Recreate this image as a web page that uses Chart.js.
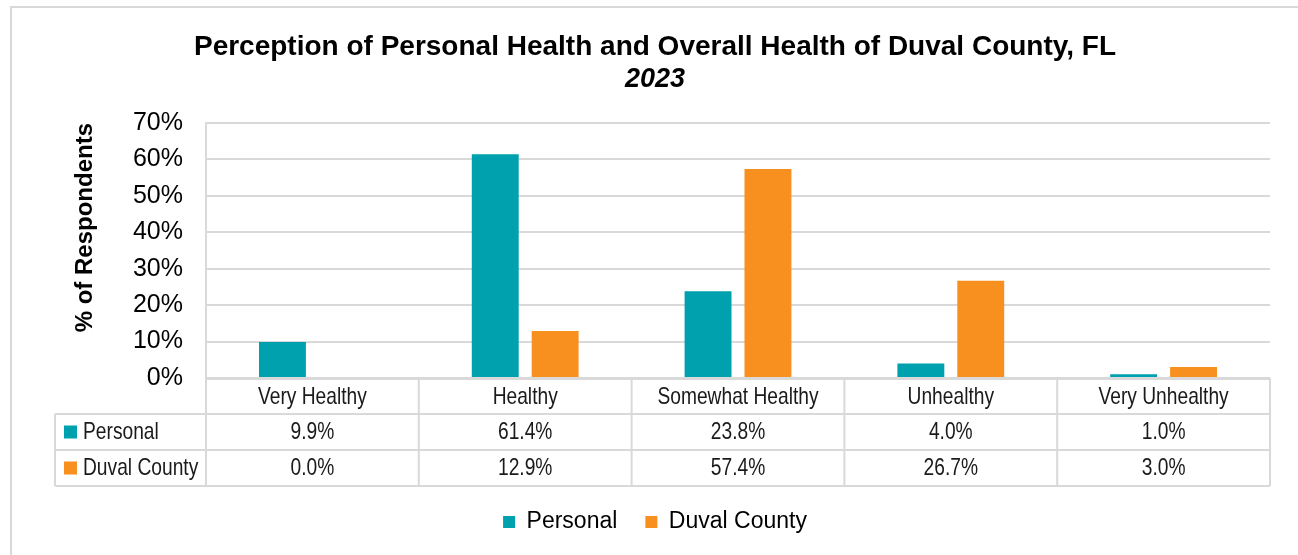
<!DOCTYPE html>
<html>
<head>
<meta charset="utf-8">
<script src="https://cdn.jsdelivr.net/npm/chart.js@4"></script>
<style>
  html, body { margin: 0; padding: 0; background: #fff; }
  #wrap { width: 1298px; height: 555px; }
</style>
</head>
<body>
<div id="wrap"><canvas id="healthChart" width="1298" height="555"></canvas></div>
<script>
const categories = ['Very Healthy', 'Healthy', 'Somewhat Healthy', 'Unhealthy', 'Very Unhealthy'];
const personal = [9.9, 61.4, 23.8, 4.0, 1.0];
const duval = [0.0, 12.9, 57.4, 26.7, 3.0];
const seriesNames = ['Personal', 'Duval County'];
const yTicks = [0, 10, 20, 30, 40, 50, 60, 70];

const teal = '#00A1AF';
const orange = '#F7901E';
const lineGray = '#D9D9D9';
const arial = 'Arial, "Liberation Sans", sans-serif';

// condensed text (no Arial Narrow available, so squeeze Arial horizontally)
function narrowText(ctx, text, x, y, align) {
  ctx.save();
  ctx.translate(x, y);
  ctx.scale(0.8, 1);
  ctx.textAlign = align;
  ctx.fillText(text, 0, 0);
  ctx.restore();
}

// data table under the plot + outer frame
const tablePlugin = {
  id: 'dataTable',
  afterDraw(chart) {
    const ctx = chart.ctx;
    const area = chart.chartArea;
    const x = chart.scales.x;
    const rowH = 36;
    const top = area.bottom;
    const labelLeft = 55;
    const rows = [personal, duval];
    const colors = [teal, orange];

    ctx.save();
    ctx.strokeStyle = lineGray;
    ctx.lineWidth = 2;

    // outer frame of the chart
    ctx.strokeRect(11, 7, 1300, 560);

    // horizontal lines
    ctx.beginPath();
    ctx.moveTo(area.left, top + 1);
    ctx.lineTo(area.right, top + 1);
    for (let r = 1; r <= 3; r++) {
      ctx.moveTo(labelLeft, top + r * rowH);
      ctx.lineTo(area.right, top + r * rowH);
    }
    // vertical lines
    ctx.moveTo(labelLeft, top + rowH);
    ctx.lineTo(labelLeft, top + 3 * rowH);
    for (let i = 0; i <= categories.length; i++) {
      const px = area.left + (area.right - area.left) * i / categories.length;
      ctx.moveTo(px, top);
      ctx.lineTo(px, top + 3 * rowH);
    }
    ctx.stroke();

    ctx.font = '24px ' + arial;
    ctx.textBaseline = 'middle';
    ctx.fillStyle = '#1a1a1a';

    // category header row
    categories.forEach((c, i) => {
      narrowText(ctx, c, x.getPixelForValue(i), top + rowH / 2 + 1, 'center');
    });

    // row labels and values
    rows.forEach((vals, r) => {
      const cy = top + (r + 1.5) * rowH;
      ctx.fillStyle = colors[r];
      ctx.fillRect(labelLeft + 9, cy - 6.5, 13, 13);
      ctx.fillStyle = '#1a1a1a';
      narrowText(ctx, seriesNames[r], labelLeft + 28, cy, 'left');
      vals.forEach((v, i) => {
        narrowText(ctx, v.toFixed(1) + '%', x.getPixelForValue(i), cy, 'center');
      });
    });
    ctx.restore();
  }
};

new Chart(document.getElementById('healthChart'), {
  type: 'bar',
  data: {
    labels: categories,
    datasets: [{
      label: seriesNames[0],
      data: personal,
      backgroundColor: teal,
      categoryPercentage: 0.563,
      barPercentage: 0.783
    },
    {
      label: seriesNames[1],
      data: duval,
      backgroundColor: orange,
      categoryPercentage: 0.563,
      barPercentage: 0.783
    }]
  },
  options: {
    responsive: false,
    animation: false,
    layout: { padding: { left: 40, right: 28, top: 0, bottom: 11.5 } },
    plugins: {
      title: {
        display: true,
        text: 'Perception of Personal Health and Overall Health of Duval County, FL',
        color: '#000',
        font: { family: arial, size: 28, weight: 'bold' },
        padding: { top: 30, bottom: 0 }
      },
      subtitle: {
        display: true,
        text: '2023',
        color: '#000',
        font: { family: arial, size: 27, weight: 'bold', style: 'italic' },
        padding: { top: 0, bottom: 27 }
      },
      legend: {
        position: 'bottom',
        labels: {
          color: '#000',
          font: { family: arial, size: 23 },
          boxWidth: 12,
          boxHeight: 12,
          padding: 28
        }
      },
      tooltip: { enabled: false }
    },
    scales: {
      x: {
        grid: { display: false, drawTicks: false },
        border: { display: false },
        ticks: { display: false },
        afterFit(scale) { scale.height = 104.5; }
      },
      y: {
        min: 0,
        max: 70,
        afterBuildTicks(scale) { scale.ticks = yTicks.map(v => ({ value: v })); },
        grid: { color: lineGray, lineWidth: 2, drawTicks: false },
        border: { color: lineGray, width: 2 },
        ticks: {
          color: '#000',
          font: { family: arial, size: 25 },
          padding: 23,
          callback: v => v + '%'
        },
        title: {
          display: true,
          text: '% of Respondents',
          align: 'end',
          color: '#000',
          font: { family: arial, size: 24, weight: 'bold' },
          padding: { top: 31, bottom: 0 }
        },
        afterFit(scale) { scale.width = 166; }
      }
    }
  },
  plugins: [tablePlugin]
});
</script>
</body>
</html>
